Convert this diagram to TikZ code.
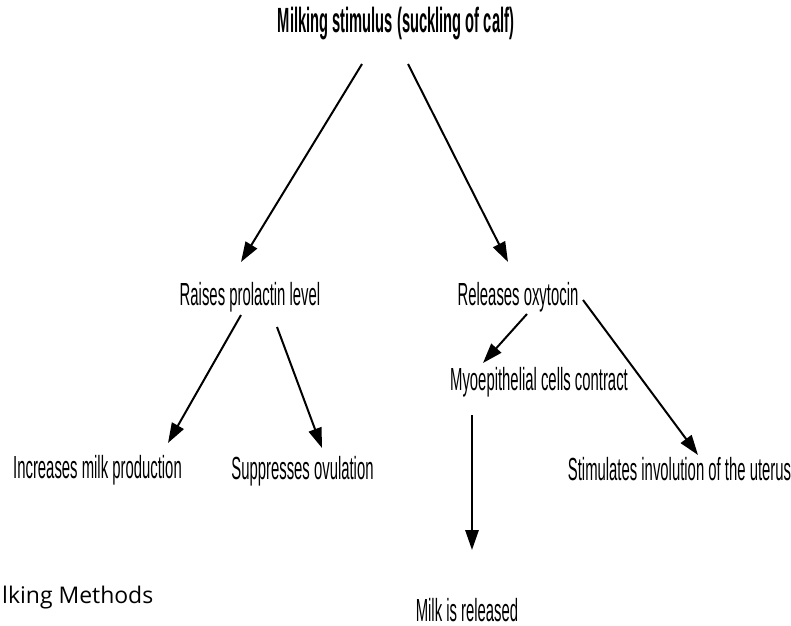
\documentclass[tikz,border=0pt]{standalone}
\usepackage{fontspec}
\newfontfamily\narrowfont{Liberation Sans}[FakeStretch=0.465]
\newfontfamily\ttlfont{Liberation Sans}[FakeStretch=0.42]
\newfontfamily\methfont{Open Sans}
\usetikzlibrary{arrows.meta, calc}

\tikzset{
    lbl/.style={
        inner sep=0pt, anchor=base,
        font=\narrowfont\fontsize{27.3}{30}\selectfont,
    },
    ttlnode/.style={
        inner sep=0pt, anchor=base,
        font=\ttlfont\bfseries\fontsize{29.9}{32}\selectfont,
    },
    % thick black connector with a big filled head
    flow/.style={
        -{Triangle[length=6mm, width=4mm]}, line width=1.7pt,
    },
}

\begin{document}
\begin{tikzpicture}[x=0.03cm, y=-0.03cm]
\useasboundingbox (0,0) rectangle (791,626);

% ============================================================
%   Nodes (placed on their baselines)
% ============================================================
\node[ttlnode] (ttl) at (396, 33) {Milking stimulus (suckling of calf)};

\node[lbl] (rpl) at (250, 305) {Raises prolactin level};
\node[lbl] (rox) at (518, 305) {Releases oxytocin};
\node[lbl] (myo) at (539, 390) {Myoepithelial cells contract};

\node[lbl] (imp) at ( 97.5, 478) {Increases milk production};
\node[lbl] (sov) at (302.5, 479) {Suppresses ovulation};
\node[lbl] (stu) at (679.5, 480) {Stimulates involution of the uterus};

\node[lbl] (mir) at (467, 621) {Milk is released};

\node[inner sep=0pt, anchor=base west,
      font=\methfont\fontsize{19.6}{22}\selectfont]
    (mth) at (2, 603) {lking Methods};

% ============================================================
%   Connectors
% ============================================================
\draw[flow] ($(ttl.base)+(-34,31)$) -- ($(rpl.base)+(-9,-43)$);
\draw[flow] ($(ttl.base)+(12,31)$)  -- ($(rox.base)+(-10,-43)$);

\draw[flow] ($(rpl.base)+(-9,10)$)  -- ($(imp.base)+(70.5,-35)$);
\draw[flow] ($(rpl.base)+(27,22)$)  -- ($(sov.base)+(19.5,-31)$);

\draw[flow] ($(rox.base)+(9,9)$)    -- ($(myo.base)+(-56,-27)$);
\draw[flow] ($(rox.base)+(65,-5)$)  -- ($(stu.base)+(18.5,-25)$);

\draw[flow] ($(myo.base)+(-67,25)$) -- ($(mir.base)+(5,-71)$);

\end{tikzpicture}
\end{document}
